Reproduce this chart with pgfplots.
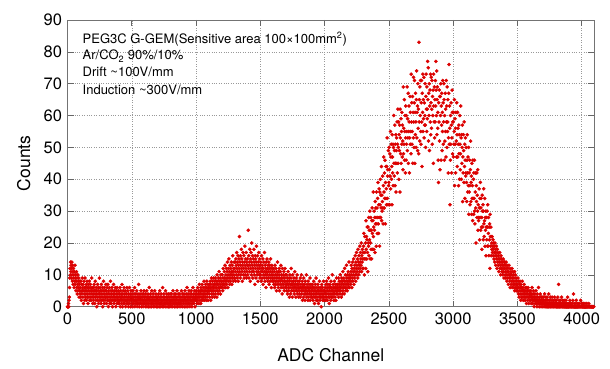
\documentclass[border=0pt]{standalone}
\usepackage{fontspec}
\setmainfont{TeX Gyre Heros}
\usepackage{pgfplots}
\usepackage{pgfplotstable}
\pgfplotsset{compat=1.18}
\definecolor{ptred}{RGB}{220,0,0}
% counts, every 2nd ADC channel; each row = 20 channels (10 values)
\pgfplotstableread[header=false]{
0 0 0 0 1 0 2 3 6 9
12 10 14 11 13 9 12 14 10 8
13 11 7 12 9 10 6 11 8 13
7 9 10 5 8 11 6 9 4 7
10 5 8 6 9 3 7 5 8 4
6 3 8 5 2 7 4 9 5 6
3 7 1 5 8 4 6 2 9 5
3 6 4 7 2 5 8 3 6 4
1 7 5 3 6 8 2 4 5 7
3 6 2 5 9 4 3 6 1 5
4 2 6 3 7 5 1 4 8 3
5 2 6 4 0 5 3 7 2 4
6 1 5 3 9 4 2 6 3 5
1 4 7 2 5 3 6 0 4 2
8 5 3 1 6 4 2 5 3 7
3 5 1 4 6 2 3 7 4 0
5 2 3 6 1 4 2 8 3 5
1 4 2 6 3 0 5 2 4 7
3 1 4 2 5 3 6 2 0 4
3 5 1 6 2 3 4 1 5 2
3 1 4 2 6 0 3 5 2 4
1 3 7 2 0 4 3 5 1 2
6 3 1 4 2 5 0 3 2 4
1 6 3 2 5 1 3 0 4 2
3 6 1 2 4 3 0 5 2 3
2 4 1 3 0 5 2 3 1 4
2 6 0 3 2 1 4 3 2 5
1 0 3 2 4 1 3 7 2 0
3 1 4 2 3 1 5 2 0 3
4 1 2 3 0 4 2 1 5 3
1 3 2 0 4 2 1 3 5 0
2 3 1 4 2 0 3 1 6 2
3 0 2 4 1 3 2 0 5 1
2 3 1 4 0 2 3 1 2 5
0 3 2 1 4 2 0 3 1 2
3 0 2 1 4 2 3 0 1 5
2 3 1 0 4 2 1 3 2 0
6 1 2 3 0 4 1 2 3 1
0 5 2 1 3 2 4 0 1 2
3 1 4 0 2 3 1 2 0 4
2 1 3 0 4 2 1 3 2 0
5 1 3 2 1 4 0 2 3 1
2 4 0 3 1 2 5 1 0 3
2 4 1 2 0 3 1 4 2 1
3 0 2 5 1 3 2 0 4 2
3 1 2 4 0 3 2 5 1 2
3 0 4 2 1 6 3 2 0 4
1 3 2 5 1 3 0 4 2 3
1 5 2 4 0 3 2 1 6 3
2 4 1 3 5 2 0 4 3 2
3 5 2 4 1 3 6 2 4 3
5 1 4 7 3 2 5 4 1 6
3 5 2 4 7 3 5 2 6 4
3 8 5 2 4 6 3 7 5 4
2 6 8 3 5 4 7 2 6 5
6 4 7 3 5 8 6 2 7 5
9 4 6 3 8 5 7 4 6 9
5 7 3 8 6 4 9 7 5 8
6 3 10 7 5 8 4 9 6 7
11 5 8 6 9 4 7 10 6 8
8 6 10 7 5 9 12 7 8 6
11 9 7 13 8 6 10 9 12 7
8 11 14 9 6 10 12 8 15 9
11 7 13 10 8 12 9 14 11 7
10 13 9 16 11 8 12 10 14 9
12 9 14 11 8 15 13 10 17 12
9 14 11 16 8 13 10 15 12 22
11 14 9 16 13 10 18 12 15 11
8 14 13 17 10 12 16 9 14 11
19 13 10 15 12 17 9 14 11 13
15 10 13 24 12 16 9 14 11 18
13 8 15 12 17 10 14 20 11 13
16 9 12 15 11 18 14 10 13 7
16 12 15 9 14 19 11 13 10 16
12 8 14 11 17 13 10 15 12 9
13 10 14 11 8 16 12 9 13 11
15 7 12 10 14 9 17 11 8 13
10 12 6 14 11 9 15 10 12 8
13 11 9 14 7 12 10 13 8 11
15 9 12 6 10 13 8 11 9 12
10 8 12 7 9 11 6 13 8 10
7 12 9 5 11 8 10 14 7 9
6 11 8 10 12 5 9 7 11 8
13 6 9 10 7 4 12 8 9 6
10 7 11 5 8 9 12 6 10 7
8 6 10 5 7 9 4 8 11 6
7 5 9 3 8 10 6 7 4 9
12 5 7 8 6 3 10 7 5 8
6 9 4 7 11 5 6 8 3 7
9 5 6 10 4 7 8 5 6 3
7 5 8 4 6 9 3 6 7 5
10 4 6 8 2 5 7 6 3 9
5 4 7 6 2 8 5 4 6 10
3 5 7 4 6 2 8 5 3 6
7 4 5 9 2 6 4 7 3 5
4 6 3 7 5 2 6 4 8 3
5 1 6 4 7 3 5 9 2 4
6 3 5 2 7 4 1 5 6 3
8 4 2 5 3 6 4 0 5 7
3 4 6 2 5 3 8 4 2 5
5 3 6 4 2 7 5 3 8 4
6 2 5 7 3 9 4 6 1 5
3 7 4 6 2 8 5 3 6 4
10 5 3 7 4 6 2 5 8 4
6 3 7 5 2 6 9 4 5 7
6 4 7 5 9 3 6 8 5 7
4 10 6 5 8 3 7 9 6 4
8 11 5 7 6 9 4 8 12 6
7 10 5 8 6 13 9 7 5 10
8 6 11 7 9 14 8 6 10 9
9 7 11 8 13 10 6 12 9 14
8 11 10 15 7 12 9 13 11 16
10 8 14 12 17 10 13 11 15 9
18 12 14 10 16 13 11 19 14 12
17 15 13 20 11 16 14 18 12 15
17 12 19 23 15 10 17 22 15 20
12 27 18 22 15 21 25 17 11 25
20 19 28 16 24 21 30 15 24 20
28 18 24 15 27 31 23 18 27 36
22 25 18 30 24 28 17 33 26 31
28 19 36 26 31 23 34 28 39 26
23 32 37 28 19 36 32 40 28 35
31 44 27 35 30 33 41 31 26 38
47 36 31 42 34 46 26 39 34 44
37 32 44 53 34 41 43 32 49 38
39 50 43 32 48 41 55 37 47 51
40 44 32 54 47 42 51 38 50 60
45 41 49 57 38 51 45 54 36 49
53 45 58 42 51 62 45 50 58 40
54 49 57 36 62 53 48 59 45 55
51 61 47 57 52 43 69 48 56 51
65 46 55 60 42 53 63 46 60 51
55 69 49 59 53 67 45 55 63 58
42 53 66 51 61 55 48 73 58 64
51 55 66 45 61 53 72 58 50 64
71 45 61 54 67 58 50 65 74 53
61 63 49 70 56 62 48 83 58 65
52 69 60 71 55 51 64 71 58 44
67 61 73 55 65 59 72 53 64 57
60 70 57 50 66 73 62 55 69 59
62 77 65 75 52 67 60 70 49 63
68 58 73 54 64 72 56 62 71 51
66 60 68 45 73 63 58 69 53 65
58 71 63 77 68 60 74 54 65 69
56 61 46 39 64 58 68 52 66 43
66 60 70 46 63 57 67 49 61 55
71 64 51 58 70 65 46 60 52 67
55 62 47 71 58 63 50 69 55 58
65 42 53 67 76 51 63 56 32 46
60 51 64 57 42 53 68 61 48 58
58 47 61 51 55 65 38 59 51 56
42 61 52 47 64 54 44 61 47 56
51 38 57 48 54 40 60 51 43 48
63 53 40 54 45 50 57 33 47 42
54 49 39 58 44 51 34 46 53 41
42 50 39 33 46 54 42 36 47 38
50 29 42 36 46 38 32 43 52 33
39 41 29 45 34 38 27 46 34 40
29 42 34 46 30 26 36 42 31 20
38 33 42 28 35 30 43 24 32 27
28 37 31 21 34 28 39 24 31 34
25 28 18 35 30 25 32 21 30 37
26 22 27 34 19 28 24 30 16 25
28 21 30 19 25 32 19 23 28 16
25 21 26 12 29 22 19 25 16 22
20 18 22 17 19 21 16 18 20 15
19 17 14 20 16 18 13 17 19 15
16 12 18 14 17 15 13 16 11 15
14 17 12 15 13 10 16 14 12 15
11 13 14 10 12 15 11 13 9 14
12 14 10 13 11 9 14 12 10 8
13 11 9 12 10 7 11 13 9 10
8 12 6 10 9 11 7 10 8 12
6 9 11 7 8 10 6 9 7 11
5 8 10 6 7 9 5 8 6 7
7 5 9 6 4 8 6 3 7 5
8 4 6 2 7 5 3 6 4 8
5 3 6 2 5 4 7 3 5 4
2 6 3 5 4 1 6 3 4 5
2 4 6 3 1 5 3 4 2 4
4 2 5 3 1 4 3 6 2 3
1 4 2 5 3 0 3 2 4 1
3 2 5 1 2 3 0 4 2 1
3 2 6 1 2 0 3 1 2 4
1 2 0 3 1 2 3 0 2 1
2 1 3 0 2 1 4 0 1 2
0 3 1 0 2 1 3 0 1 2
0 1 4 0 1 2 1 0 3 1
0 2 1 0 1 3 0 1 2 0
1 0 2 1 0 3 1 0 1 2
1 0 2 0 1 1 0 3 0 1
7 0 2 0 1 0 1 2 0 0
1 0 3 1 0 0 2 0 1 0
0 1 2 0 0 1 0 1 0 2
0 0 1 0 0 3 0 1 0 0
0 1 0 0 2 0 1 0 0 1
0 0 0 1 0 0 2 0 4 0
0 1 0 0 0 1 0 0 0 2
0 0 1 0 0 0 1 0 0 0
0 1 0 0 0 0 2 0 0 1
0 0 1 0 0 0 0 1 0 0
0 0 0 1 0 0 0 0 0 0
1 0 0 0 0 0 0 0 1 0
0 0 0 0 0 0 0 0 0 0
0 0 0 0 0 0 0 0 nan nan
}\spectrum
\begin{document}
\begin{tikzpicture}
\begin{axis}[
  scale only axis, width=526.5pt, height=286.7pt,
  xmin=0, xmax=4096, ymin=0, ymax=90,
  xtick={0,500,...,4000}, ytick={0,10,...,90},
  grid=major,
  major grid style={dotted, color=black!40, line width=0.5pt},
  axis line style={color=black!55, line width=0.7pt},
  major tick length=6pt,
  tick style={color=black!60, line width=0.6pt},
  tick label style={font=\fontsize{16.5}{19.8}\selectfont},
  /pgf/number format/assume math mode=true,
  /pgf/number format/1000 sep={},
  scaled x ticks=false,
  yticklabel style={xshift=-2pt},
  xticklabel style={yshift=-3pt},
  xlabel={ADC Channel}, ylabel={Counts},
  xlabel style={font=\fontsize{17.5}{21}\selectfont, at={(axis description cs:0.5,-0.1929)}, anchor=base},
  ylabel style={font=\fontsize{17.5}{21}\selectfont, at={(axis description cs:-0.0712,0.5)}, anchor=base},
]
\pgfplotsinvokeforeach{0,...,9}{
  \addplot[only marks, mark=*, mark size=1.6pt, color=ptred] table[x expr=20*\coordindex+2*#1, y index=#1] {\spectrum};
}
\node[anchor=base west, font=\fontsize{13}{15.6}\selectfont, inner sep=0pt] at ([shift={(15pt,-23.3pt)}]rel axis cs:0,1) {PEG3C G-GEM(Sensitive area 100×100mm\textsuperscript{2})};
\node[anchor=base west, font=\fontsize{13}{15.6}\selectfont, inner sep=0pt] at ([shift={(15pt,-40pt)}]rel axis cs:0,1) {Ar/CO\textsubscript{2} 90\%/10\%};
\node[anchor=base west, font=\fontsize{13}{15.6}\selectfont, inner sep=0pt] at ([shift={(15pt,-56.7pt)}]rel axis cs:0,1) {Drift \textasciitilde100V/mm};
\node[anchor=base west, font=\fontsize{13}{15.6}\selectfont, inner sep=0pt] at ([shift={(15pt,-74.3pt)}]rel axis cs:0,1) {Induction \textasciitilde300V/mm};
\end{axis}
\pgfresetboundingbox
\path ([shift={(-67.5pt,-62.3pt)}]current axis.south west) rectangle ([shift={(16pt,20pt)}]current axis.north east);
\end{tikzpicture}
\end{document}
